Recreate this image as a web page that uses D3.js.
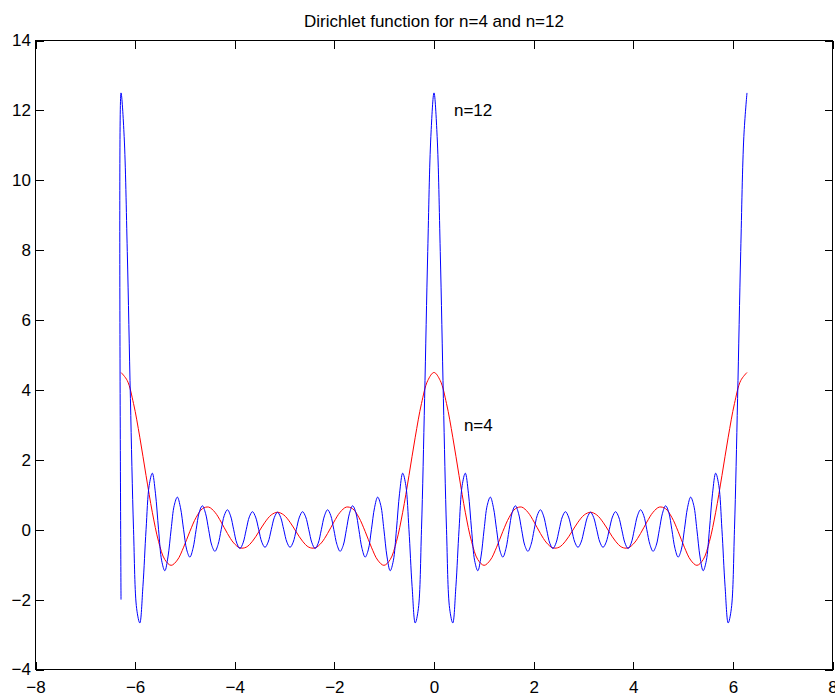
<!DOCTYPE html>
<html lang="en">
  <head>
    <meta charset='utf-8'>
    <script src='https://d3js.org/d3.v7.min.js'></script>
    <title>Dirichlet function</title>
    <style>
      body {
        margin: 0px;
        background: #ffffff;
      }
      text {
        font-family: 'Liberation Sans', Arial, Helvetica, sans-serif;
        font-size: 17px;
        fill: #000000;
      }
      .tick line {
        stroke: #000000;
      }
    </style>
  </head>
  <body>
    <div id='viz'></div>
    <script>

      // axis ticks
      const xTicks = [-8, -6, -4, -2, 0, 2, 4, 6, 8];
      const yTicks = [-4, -2, 0, 2, 4, 6, 8, 10, 12, 14];

      // both curves are sampled on a regular grid from -2*pi to 2*pi
      const xStart = -6.2832;
      const blueStep = 0.062832;   // n=12 sampled at pi/50
      const redStep = 0.125664;    // n=4 sampled at pi/25

      // the first n=12 sample at x=-2*pi comes out at -2 in the picture
      const blueEdge = [[-6.2832, -2]];

      // n=12 values
      const blueY = [
        12.5, 11.256, 7.963, 3.757, 0, -2.260, -2.668, -1.621, 0, 1.267, 1.618, 1.044, 0,
        -0.890, -1.174, -0.779, 0, 0.695, 0.933, 0.629, 0, -0.577, -0.784, -0.535, 0,
        0.500, 0.686, 0.471, 0, -0.447, -0.618, -0.427, 0, 0.411, 0.571, 0.397, 0,
        -0.385, -0.538, -0.376, 0, 0.368, 0.516, 0.362, 0, -0.358, -0.504, -0.355, 0,
        0.354, 0.500, 0.354, 0, -0.355, -0.504, -0.358, 0, 0.362, 0.516, 0.368, 0,
        -0.376, -0.538, -0.385, 0, 0.397, 0.571, 0.411, 0, -0.427, -0.618, -0.447, 0,
        0.471, 0.686, 0.500, 0, -0.535, -0.784, -0.577, 0, 0.629, 0.933, 0.695, 0,
        -0.779, -1.174, -0.890, 0, 1.044, 1.618, 1.267, 0, -1.621, -2.668, -2.260, 0,
        3.757, 7.963, 11.256, 12.5,
        11.256, 7.963, 3.757, 0, -2.260, -2.668, -1.621, 0, 1.267, 1.618, 1.044, 0,
        -0.890, -1.174, -0.779, 0, 0.695, 0.933, 0.629, 0, -0.577, -0.784, -0.535, 0,
        0.500, 0.686, 0.471, 0, -0.447, -0.618, -0.427, 0, 0.411, 0.571, 0.397, 0,
        -0.385, -0.538, -0.376, 0, 0.368, 0.516, 0.362, 0, -0.358, -0.504, -0.355, 0,
        0.354, 0.500, 0.354, 0, -0.355, -0.504, -0.358, 0, 0.362, 0.516, 0.368, 0,
        -0.376, -0.538, -0.385, 0, 0.397, 0.571, 0.411, 0, -0.427, -0.618, -0.447, 0,
        0.471, 0.686, 0.500, 0, -0.535, -0.784, -0.577, 0, 0.629, 0.933, 0.695, 0,
        -0.779, -1.174, -0.890, 0, 1.044, 1.618, 1.267, 0, -1.621, -2.668, -2.260, 0,
        3.757, 7.963, 11.256, 12.5
      ];

      // n=4 values
      const redY = [
        4.5, 4.267, 3.610, 2.647, 1.549, 0.500, -0.338, -0.856, -1.019, -0.868,
        -0.500, -0.049, 0.352, 0.601, 0.648, 0.500, 0.218, -0.107, -0.378, -0.521,
        -0.500, -0.329, -0.064, 0.215, 0.423, 0.500, 0.423, 0.215, -0.064, -0.329,
        -0.500, -0.521, -0.378, -0.107, 0.218, 0.500, 0.648, 0.601, 0.352, -0.049,
        -0.500, -0.868, -1.019, -0.856, -0.338, 0.500, 1.549, 2.647, 3.610, 4.267,
        4.5, 4.267, 3.610, 2.647, 1.549, 0.500, -0.338, -0.856, -1.019, -0.868,
        -0.500, -0.049, 0.352, 0.601, 0.648, 0.500, 0.218, -0.107, -0.378, -0.521,
        -0.500, -0.329, -0.064, 0.215, 0.423, 0.500, 0.423, 0.215, -0.064, -0.329,
        -0.500, -0.521, -0.378, -0.107, 0.218, 0.500, 0.648, 0.601, 0.352, -0.049,
        -0.500, -0.868, -1.019, -0.856, -0.338, 0.500, 1.549, 2.647, 3.610, 4.267,
        4.5
      ];

      const labels = [
        { text: 'n=12', x: 0.4, y: 12 },
        { text: 'n=4', x: 0.6, y: 3 }
      ];
      const title = 'Dirichlet function for n=4 and n=12';

      const width = 835;
      const height = 693;
      const margin = { left: 35.5, right: 2.5, top: 40.5, bottom: 23.5 };
      const innerWidth = width - margin.left - margin.right;
      const innerHeight = height - margin.top - margin.bottom;

      const svg = d3.select('#viz').append('svg')
        .attr('width', width)
        .attr('height', height);

      const g = svg.append('g')
        .attr('transform', `translate(${margin.left},${margin.top})`);

      const xScale = d3.scaleLinear().domain([-8, 8]).range([0, innerWidth]);
      const yScale = d3.scaleLinear().domain([-4, 14]).range([innerHeight, 0]);

      const fmt = d => d3.format('d')(d).replace('-', '\u2212');

      // inward ticks on all four sides, labels only bottom and left
      const xAxisG = g.append('g')
        .attr('transform', `translate(0,${innerHeight})`)
        .call(d3.axisBottom(xScale).tickValues(xTicks).tickSize(-8).tickSizeOuter(0)
          .tickPadding(11).tickFormat(fmt));
      const yAxisG = g.append('g')
        .call(d3.axisLeft(yScale).tickValues(yTicks).tickSize(-8).tickSizeOuter(0)
          .tickPadding(4.5).tickFormat(fmt));
      g.append('g')
        .call(d3.axisTop(xScale).tickValues(xTicks).tickSize(-8).tickSizeOuter(0).tickFormat(''));
      g.append('g')
        .attr('transform', `translate(${innerWidth},0)`)
        .call(d3.axisRight(yScale).tickValues(yTicks).tickSize(-8).tickSizeOuter(0).tickFormat(''));

      g.selectAll('.domain').remove();
      g.selectAll('.tick text')
        .attr('font-family', null)
        .attr('font-size', null)
        .style('fill', '#000');
      g.selectAll('.tick line').attr('shape-rendering', 'crispEdges');

      g.append('rect')
        .attr('width', innerWidth)
        .attr('height', innerHeight)
        .attr('fill', 'none')
        .attr('stroke', '#000')
        .attr('stroke-width', 1)
        .attr('shape-rendering', 'crispEdges');

      // series
      const blueData = blueEdge.concat(blueY.map((v, i) => [xStart + i * blueStep, v]));
      const redData = redY.map((v, i) => [xStart + i * redStep, v]);

      const line = d3.line()
        .x(d => xScale(d[0]))
        .y(d => yScale(d[1]))
        .curve(d3.curveCatmullRom);

      g.append('path')
        .datum(redData)
        .attr('fill', 'none')
        .attr('stroke', '#ff0000')
        .attr('stroke-width', 1)
        .attr('d', line);

      g.append('path')
        .datum(blueData)
        .attr('fill', 'none')
        .attr('stroke', '#0000ff')
        .attr('stroke-width', 1)
        .attr('d', line);

      // text annotations
      g.selectAll('.note')
        .data(labels)
        .enter().append('text')
          .attr('class', 'note')
          .attr('x', d => xScale(d.x))
          .attr('y', d => yScale(d.y))
          .attr('dy', '0.35em')
          .text(d => d.text);

      svg.append('text')
        .attr('x', margin.left + innerWidth / 2)
        .attr('y', 27)
        .attr('text-anchor', 'middle')
        .text(title);

    </script>
  </body>
</html>
